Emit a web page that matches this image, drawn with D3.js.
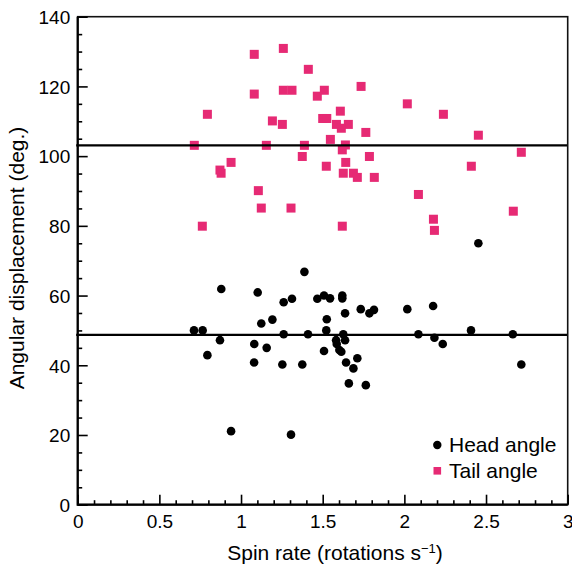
<!DOCTYPE html>
<html>
<head>
<meta charset="utf-8">
<script src="https://cdn.jsdelivr.net/npm/d3@7"></script>
<style>
  html, body { margin: 0; padding: 0; background: #fff; }
  svg { display: block; }
  text { font-family: "Liberation Sans", Arial, Helvetica, sans-serif; fill: #000; }
</style>
</head>
<body>
<svg id="chart" width="572" height="569"></svg>
<script>
// ---- data ----
const headPoints = [
  [0.879,61.9],[1.102,60.9],[1.388,66.8],[1.261,58.1],[1.312,59.1],[1.467,59.1],
  [1.192,53.1],[1.124,52.0],[0.712,50.0],[0.765,50.0],[1.261,48.9],[1.410,48.9],
  [0.871,47.2],[1.081,46.1],[1.157,45.0],[0.794,42.9],[1.080,40.8],[1.253,40.2],
  [1.375,40.2],[0.939,21.1],[1.306,20.1],[2.453,75.0],[1.508,60.0],[1.545,59.2],
  [1.620,60.0],[1.620,59.2],[1.525,53.2],[1.637,54.9],[1.733,56.1],[1.786,54.9],
  [1.814,55.9],[2.018,56.1],[2.176,57.0],[1.522,50.0],[1.626,48.9],[2.086,48.9],
  [2.408,50.0],[2.664,48.9],[1.582,47.2],[1.586,46.1],[1.637,47.2],[2.184,47.9],
  [2.235,46.1],[1.508,44.1],[1.602,44.4],[1.614,43.9],[1.712,42.0],[1.643,40.8],
  [1.688,39.1],[1.660,34.8],[1.764,34.3],[2.716,40.2]
];
const tailPoints = [
  [1.081,129.2],[1.259,130.9],[1.412,124.9],[1.081,117.8],[1.259,118.9],[1.312,118.9],
  [1.467,117.2],[0.794,112.0],[1.192,110.1],[1.253,109.1],[0.714,103.1],[1.155,103.1],
  [1.388,103.1],[1.375,99.9],[0.939,98.2],[0.871,96.0],[0.878,95.1],[1.106,90.1],
  [1.124,85.1],[1.306,85.1],[0.763,79.9],[1.510,118.9],[1.735,120.0],[2.018,115.0],
  [2.239,112.0],[1.608,112.9],[1.500,110.8],[1.525,110.8],[1.584,109.1],[1.657,109.1],
  [1.614,108.0],[1.764,106.8],[1.547,104.8],[2.453,106.0],[1.639,103.2],[1.620,101.8],
  [1.786,99.9],[2.716,101.1],[1.522,97.1],[1.641,98.2],[2.410,97.1],[1.626,95.1],
  [1.688,95.1],[1.712,93.9],[1.816,93.9],[2.086,89.0],[2.667,84.2],[2.178,81.9],
  [2.184,78.7],[1.620,79.9]
];
const meanLines = [103.1, 48.7];
const xMajorTicks = [0, 0.5, 1, 1.5, 2, 2.5, 3];
const xTickLabels = ["0", "0.5", "1", "1.5", "2", "2.5", "3"];
const yMajorTicks = [0, 20, 40, 60, 80, 100, 120, 140];
const seriesNames = ["Head angle", "Tail angle"];
const xTitle = "Spin rate (rotations s";
const yTitle = "Angular displacement (deg.)";

// ---- layout ----
const pink = "#e62a74";
const L = 77.7, R = 567.7, T = 16.7, B = 504.7;
const svg = d3.select("#chart");
const x = d3.scaleLinear().domain([0, 3]).range([L, R]);
const y = d3.scaleLinear().domain([0, 140]).range([B, T]);

const tickFont = "19px";
const titleFont = "21px";

// markers
svg.append("g").selectAll("rect").data(tailPoints).join("rect")
  .attr("x", d => x(d[0]) - 4.5).attr("y", d => y(d[1]) - 4.5)
  .attr("width", 9).attr("height", 9).attr("fill", pink);
svg.append("g").selectAll("circle").data(headPoints).join("circle")
  .attr("cx", d => x(d[0])).attr("cy", d => y(d[1])).attr("r", 4.3)
  .attr("fill", "#000");

// mean lines
svg.append("g").selectAll("line").data(meanLines).join("line")
  .attr("x1", x(0) - 1.5).attr("x2", x(3))
  .attr("y1", d => y(d)).attr("y2", d => y(d))
  .attr("stroke", "#000").attr("stroke-width", 2.2);

// frame
svg.append("rect").attr("x", L).attr("y", T).attr("width", R - L).attr("height", B - T)
  .attr("fill", "none").attr("stroke", "#111").attr("stroke-width", 1.6);
svg.append("path").attr("d", `M${L},${T}V${B}H${R}`)
  .attr("fill", "none").attr("stroke", "#000").attr("stroke-width", 2.2);

// x axis (inward ticks)
const xMinor = d3.range(0, 31).map(i => i / 10).filter(v => Math.round(v * 10) % 5 !== 0);
const gxMinor = svg.append("g").attr("transform", `translate(0,${B})`)
  .call(d3.axisBottom(x).tickValues(xMinor).tickSize(-4.5).tickSizeOuter(0).tickFormat(""));
const gx = svg.append("g").attr("transform", `translate(0,${B})`)
  .call(d3.axisBottom(x).tickValues(xMajorTicks).tickSize(-10).tickSizeOuter(0)
    .tickFormat((d, i) => xTickLabels[i]));
[gxMinor, gx].forEach(g => {
  g.select(".domain").remove();
  g.selectAll("line").attr("stroke", "#000").attr("stroke-width", 1.6);
});
gx.selectAll("text").attr("y", 23).attr("dy", 0)
  .style("font-size", tickFont).attr("font-family", null);

// y axis (inward ticks)
const yMinor = d3.range(0, 141, 5).filter(v => v % 20 !== 0);
const gyMinor = svg.append("g").attr("transform", `translate(${L},0)`)
  .call(d3.axisLeft(y).tickValues(yMinor).tickSize(-4.5).tickSizeOuter(0).tickFormat(""));
const gy = svg.append("g").attr("transform", `translate(${L},0)`)
  .call(d3.axisLeft(y).tickValues(yMajorTicks).tickSize(-10).tickSizeOuter(0));
[gyMinor, gy].forEach(g => {
  g.select(".domain").remove();
  g.selectAll("line").attr("stroke", "#000").attr("stroke-width", 1.6);
});
gy.selectAll("text").attr("x", -7.5).attr("dy", "0.36em")
  .style("font-size", tickFont).attr("font-family", null);

// axis titles
const xt = svg.append("text").attr("x", 335).attr("y", 560)
  .attr("text-anchor", "middle").style("font-size", titleFont).text(xTitle);
xt.append("tspan").attr("dy", -7).style("font-size", "13px").text("\u22121");
xt.append("tspan").attr("dy", 7).text(")");

svg.append("text").attr("transform", `translate(24,258) rotate(-90)`)
  .attr("text-anchor", "middle").style("font-size", titleFont).text(yTitle);

// legend
const leg = svg.append("g");
leg.append("circle").attr("cx", 437.3).attr("cy", 445).attr("r", 4.2).attr("fill", "#000");
leg.append("rect").attr("x", 433.5).attr("y", 467).attr("width", 7.6).attr("height", 7.6).attr("fill", pink);
leg.selectAll("text.lg").data(seriesNames).join("text").attr("class", "lg")
  .attr("x", 449).attr("y", (d, i) => 452.3 + i * 25.3)
  .style("font-size", titleFont).text(d => d);
</script>
</body>
</html>
